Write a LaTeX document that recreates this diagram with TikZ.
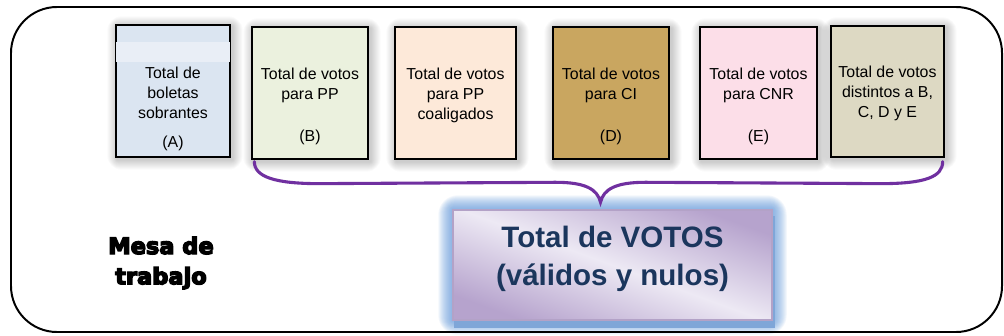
\documentclass[tikz,border=0pt]{standalone}
\usepackage{fontspec}
\setmainfont{Liberation Sans}
\newfontfamily\mesafont{DejaVu Sans Bold}[FakeBold=6]
\usetikzlibrary{calc, backgrounds}
\definecolor{boxA}{HTML}{DBE5F1}
\definecolor{bandA}{HTML}{E9EEF6}
\definecolor{boxB}{HTML}{EBF1DE}
\definecolor{boxC}{HTML}{FDE9D9}
\definecolor{boxD}{HTML}{C9A660}
\definecolor{boxE}{HTML}{FCDEE8}
\definecolor{boxF}{HTML}{DDD9C3}
\definecolor{bracepurple}{HTML}{7030A0}
\definecolor{glowblue}{HTML}{5B95DB}
\definecolor{shadeblue}{HTML}{7FA6D8}
\definecolor{lavlight}{HTML}{EDE9F4}
\definecolor{lavdark}{HTML}{B6A3CD}
\definecolor{lavline}{HTML}{B3A2C7}
\definecolor{navytext}{HTML}{1B365D}

\begin{document}
\begin{tikzpicture}[x=0.025cm, y=-0.025cm,
    votebox/.style={draw=black, line width=0.9pt, minimum height=3.3cm, inner sep=0pt},
    boxtext/.style={align=center, inner sep=0pt, font=\fontsize{11.3}{14.2}\selectfont},
    totalbox/.style={draw=lavline, line width=1pt, minimum width=7.975cm, minimum height=2.75cm,
        top color=lavdark, bottom color=lavdark, middle color=lavlight, shading angle=-20},
    totaltext/.style={align=center, text=navytext, font=\bfseries\fontsize{21}{27.5}\selectfont},
    mesatext/.style={align=center, font=\mesafont\fontsize{16}{21.5}\selectfont},
    brace/.style={draw=bracepurple, line width=2.2pt, line cap=round}]
  \useasboundingbox (0,0) rectangle (1004,335);
  \draw[line width=1.4pt, rounded corners=1.15cm] (11,7) rectangle (1002,332);

  \node[votebox, fill=boxA, minimum width=2.85cm] (A) at (173,91) {};
  \fill[bandA] ($(A.north west)+(0.6,18)$) rectangle ($(A.north east)+(-0.6,38)$);
  \node[votebox, fill=boxB, minimum width=2.9cm] (B) at (310,93) {};
  \node[votebox, fill=boxC, minimum width=3.025cm] (C) at (455.5,93) {};
  \node[votebox, fill=boxD, minimum width=2.9cm] (D) at (611,93) {};
  \node[votebox, fill=boxE, minimum width=2.925cm] (E) at (758.5,93) {};
  \node[votebox, fill=boxF, minimum width=2.825cm, minimum height=3.275cm] (F) at (887.5,91.5) {};

  \node[boxtext] (Atxt) at (173,93) {Total de\\boletas\\sobrantes};
  \node[boxtext] (Alet) at (173,143) {(A)};
  \node[boxtext] (Btxt) at (310,85) {Total de votos\\para PP};
  \node[boxtext] (Blet) at (310,137) {(B)};
  \node[boxtext] (Ctxt) at (455.5,95) {Total de votos\\para PP\\coaligados};
  \node[boxtext] (Dtxt) at (611,85) {Total de votos\\para CI};
  \node[boxtext] (Dlet) at (611,137) {(D)};
  \node[boxtext] (Etxt) at (758.5,85) {Total de votos\\para CNR};
  \node[boxtext] (Elet) at (758.5,137) {(E)};
  \node[boxtext] (Ftxt) at (887.5,93) {Total de votos\\distintos a B,\\C, D y E};

  \node[totalbox] (total) at (612.5,265) {};
  \node[totaltext] (totaltxt) at (612.5,259) {Total de VOTOS\\(válidos y nulos)};
  \node[mesatext] (mesa) at (161,263) {Mesa de\\trabajo};

  \coordinate (bstart) at ($(B.south west)+(3,2)$);
  \coordinate (bend) at ($(F.south east)+(-2,4)$);
  \coordinate (tip) at ($(total.north)+(-12,-7)$);
  \draw[brace] (bstart) .. controls +(0,15) and +(-45,0) .. ($(bstart)+(65,22)$)
    -- ($(tip)+(-45,-20)$) .. controls +(30,0) and +(-3,-13) .. (tip)
    .. controls +(3,-13) and +(-30,0) .. ($(tip)+(45,-20)$)
    -- ($(bend)+(-62,22)$) .. controls +(45,0) and +(0,15) .. (bend);

  \begin{pgfonlayer}{background}
    \fill[white] (0,0) rectangle (1004,335);
    \foreach \n in {A,B,C,D,E,F}
      \foreach \i in {1,...,10}
        \fill[black, opacity=0.02, rounded corners=\i pt]
          ($(\n.north west)+(-\i+2,-\i+2)$) rectangle ($(\n.south east)+(\i+2,\i+2)$);
    \foreach \i in {1,...,14}
      \fill[glowblue, opacity=0.07, rounded corners=\i pt]
        ($(total.north west)+(-\i,-\i)$) rectangle ($(total.south east)+(\i,\i)$);
    \fill[shadeblue] ($(total.north west)+(2,7)$) rectangle ($(total.south east)+(2,7)$);
  \end{pgfonlayer}
\end{tikzpicture}
\end{document}
